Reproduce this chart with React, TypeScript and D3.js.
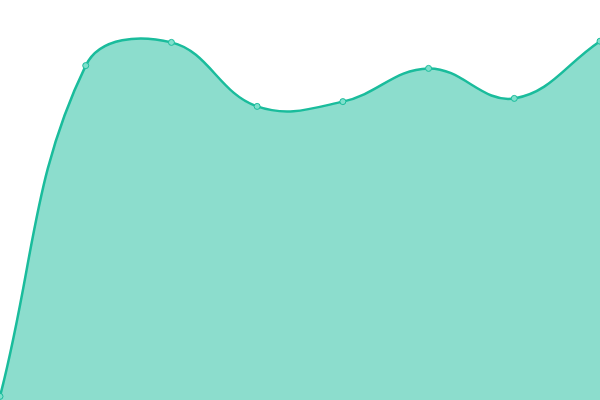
import React, { useEffect, useRef } from 'react';
import * as d3 from 'd3';

// values, 0..100 scale
const labels = ['A', 'B', 'C', 'D', 'E', 'F', 'G', 'H'];
const values = [0.9, 83.6, 89.4, 73.4, 74.6, 82.9, 75.4, 89.7];

const W = 600;
const H = 400;
const TENSION = 0.4;

type P = { x: number; y: number };

// spline control points, distance weighted (like a tension spline)
function controlPoints(pts: P[], t: number) {
  return pts.map((cur, i) => {
    const prev = pts[i - 1] || cur;
    const next = pts[i + 1] || cur;
    const d01 = Math.hypot(cur.x - prev.x, cur.y - prev.y);
    const d12 = Math.hypot(next.x - cur.x, next.y - cur.y);
    let s01 = d01 / (d01 + d12);
    let s12 = d12 / (d01 + d12);
    if (isNaN(s01)) s01 = 0;
    if (isNaN(s12)) s12 = 0;
    const fa = t * s01;
    const fb = t * s12;
    const clampY = (v: number) => Math.max(0, Math.min(H, v));
    return {
      prev: { x: cur.x - fa * (next.x - prev.x), y: clampY(cur.y - fa * (next.y - prev.y)) },
      next: { x: cur.x + fb * (next.x - prev.x), y: clampY(cur.y + fb * (next.y - prev.y)) },
    };
  });
}

const App = () => {
  const ref = useRef<SVGSVGElement | null>(null);

  useEffect(() => {
    const svg = d3.select(ref.current);
    svg.selectAll('*').remove();

    const x = d3.scalePoint().domain(labels).range([0, W]);
    const y = d3.scaleLinear().domain([0, 100]).range([H, 0]);

    const pts: P[] = labels.map((l, i) => ({ x: x(l)!, y: y(values[i]) }));
    const cps = controlPoints(pts, TENSION);

    const linePath = d3.path();
    pts.forEach((p, i) => {
      if (i === 0) linePath.moveTo(p.x, p.y);
      else {
        const a = cps[i - 1].next;
        const b = cps[i].prev;
        linePath.bezierCurveTo(a.x, a.y, b.x, b.y, p.x, p.y);
      }
    });
    const lineD = linePath.toString();
    const areaD = lineD + `L${pts[pts.length - 1].x},${y(0)}L${pts[0].x},${y(0)}Z`;

    svg.append('path')
      .attr('d', areaD)
      .attr('fill', 'rgba(26,188,156,0.5)');

    svg.append('path')
      .attr('d', lineD)
      .attr('fill', 'none')
      .attr('stroke', '#1abc9c')
      .attr('stroke-width', 2.5);

    svg.selectAll('.dot')
      .data(pts)
      .join('circle')
      .attr('class', 'dot')
      .attr('cx', d => d.x)
      .attr('cy', d => d.y)
      .attr('r', 3)
      .attr('fill', '#7fe0cc')
      .attr('stroke', '#1abc9c')
      .attr('stroke-width', 1);
  }, []);

  return (
    <svg ref={ref} width={W} height={H}
      style={{ position: 'absolute', left: 0, top: 0, background: '#fff' }} />
  );
};

export default App;
